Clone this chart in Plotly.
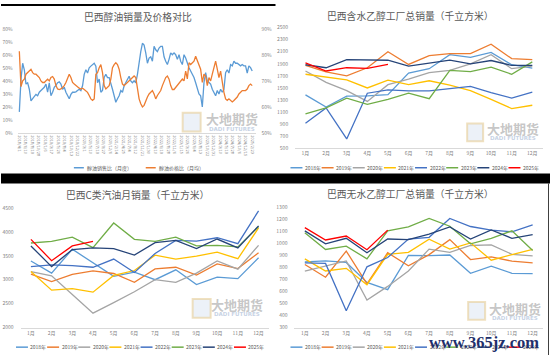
import plotly.graph_objects as go
import pandas as pd

W, H = 550, 358
def fx(px): return px / W
def fy(py): return 1 - py / H

# ---------------- Chart 1 data ----------------
ratio_tick_labels = ["2018/4/1","2018/6/10","2018/8/19","2018/10/28","2019/1/6","2019/3/17","2019/5/26",
    "2019/8/4","2019/10/13","2019/12/22","2020/3/1","2020/5/10","2020/7/19","2020/9/27","2020/12/6",
    "2021/2/14","2021/4/25","2021/7/4","2021/9/12","2021/11/21","2022/1/30","2022/4/10","2022/6/19",
    "2022/8/28","2022/11/6","2023/1/15","2023/3/26","2023/6/4","2023/8/13","2023/10/22","2023/12/31",
    "2024/3/10","2024/5/19","2024/7/28","2024/10/6","2024/12/15","2025/2/23"]
sales_ratio = [16.6, 41.8, 54, 49, 38, 39, 34, 25, 26.7, 28,
    30, 29, 31.7, 33, 34, 35.5, 38, 31.7, 39, 29,
    31.7, 35.5, 37, 39, 39.7, 38, 34, 35.5, 31.7, 29,
    26.7, 30, 31.7, 31.7, 32, 33, 34, 33, 36.7, 45.5,
    49, 46.5, 50.5, 51.8, 53, 54, 51.8, 39, 41.8, 31.7,
    33, 43, 45.5, 43, 43, 39, 34, 29, 24, 26.7,
    29, 33, 31.7, 36.7, 39, 41.8, 44, 40.5, 39, 40.5,
    39, 45.5, 55.6, 63, 69.4, 68, 62, 54, 58, 59,
    55.6, 67, 64.4, 63, 65.7, 67, 67, 59, 55.6, 53,
    57, 62, 60.6, 62, 60.6, 57, 60.6, 55.6, 53, 60.6,
    58, 54, 50.6, 48, 45.5, 43, 39, 34, 30.4, 29,
    20.4, 39, 46.8, 40.5, 39, 38, 34, 31.7, 29, 33,
    30.4, 34, 31.7, 34, 46.8, 49, 46.5, 53, 52, 55.6,
    54, 54, 53, 52, 53, 52, 52, 46.5, 52, 50.6,
    48]
price_ratio = [81.6, 68, 70.2, 70.9, 72.8, 73.4, 74, 74.7, 73.4, 72.8,
    72.8, 72.1, 71.5, 70.2, 69.6, 69.6, 70.2, 70.9, 70.2, 71.5,
    71.9, 70.9, 68.4, 67.1, 66.9, 67.1, 67.7, 68.4, 69.6, 71.5,
    72.8, 71.5, 69.6, 69, 68.4, 67.7, 67.4, 67.1, 67.4, 66.9,
    66.5, 65.8, 64.6, 63.3, 62.7, 63.3, 72.8, 73.4, 75.3, 76.5,
    73.4, 68.4, 67.1, 67.7, 68.4, 70.9, 75.3, 76.5, 77.2, 76.5,
    74.7, 71.5, 69, 68.4, 69, 69.6, 70.2, 70.9, 71.5, 72.1,
    71.5, 67.1, 63.3, 61.4, 60.2, 60.8, 62.7, 64, 65.2, 65.8,
    66.5, 65.2, 63.3, 64.6, 65.8, 66.5, 68.4, 70.2, 71.5, 72.1,
    70.9, 68.4, 66.9, 66.9, 67.7, 68.4, 69, 70.2, 70.9, 70.2,
    74, 71, 77.2, 76.5, 77.2, 77.8, 79.7, 77.8, 76.5, 74.7,
    69.6, 72.8, 72.1, 68.4, 71.5, 70.2, 72.8, 75.9, 77.8, 74.7,
    71.5, 74, 69, 65.8, 63.3, 62.7, 63.3, 62.7, 62.1, 62.7,
    63.3, 64, 65.2, 65.8, 66.5, 66.5, 66.5, 67.1, 68.4, 69,
    68.4]
ratio_series_names = ["醇油销售比（月度）", "醇油价格比（月均）"]

# ---------------- Monthly charts ----------------
months = ["1月","2月","3月","4月","5月","6月","7月","8月","9月","10月","11月","12月"]
years = ["2018年","2019年","2020年","2021年","2022年","2023年","2024年","2025年"]
year_colors = ["#5B9BD5","#ED7D31","#A5A5A5","#FFC000","#4472C4","#70AD47","#264478","#FF0000"]

hydrous_sales = [
    [1386, 1186, 1365, 1370, 1390, 1745, 1819, 2051, 2008, 2089, 1885, 1830],
    [1873, 1765, 1700, 1835, 2100, 1889, 2035, 2068, 2068, 2224, 1986, 1970],
    [1781, 1592, 1457, 1278, 1554, 1646, 1754, 1792, 1900, 2051, 1819, 1862],
    [1727, 1684, 1635, 1500, 1630, 1554, 1619, 1549, 1457, 1311, 1160, 1214],
    [916, 1170, 657, 1413, 1467, 1451, 1451, 1495, 1527, 1424, 1332, 1430],
    [1073, 1170, 1332, 1230, 1311, 1413, 1322, 1792, 1770, 1846, 1727, 1932],
    [1884, 1835, 1970, 1959, 1959, 1862, 1916, 1959, 1900, 1954, 1873, 1873],
    [1916, 1781, 1835, 1824, 1889],
]
gasoline_c_sales = [
    [3391, 3137, 3637, 3356, 3069, 3158, 3000, 3206, 2897, 3055, 3021, 3459],
    [3117, 2959, 3110, 3185, 3130, 2945, 3226, 3260, 3096, 3329, 3233, 3562],
    [3171, 3082, 2692, 2301, 2521, 2747, 3000, 2945, 3137, 3391, 3219, 3719],
    [3171, 2781, 2815, 2740, 3089, 3192, 3514, 3432, 3493, 3575, 3438, 4082],
    [3274, 3308, 3295, 3260, 3432, 3151, 3548, 3822, 3808, 3877, 3753, 4439],
    [3767, 3802, 3891, 3671, 4185, 3843, 3802, 3891, 3706, 3719, 3685, 4110],
    [3706, 3274, 3630, 3664, 3651, 3514, 3774, 3822, 3651, 3850, 3664, 4124],
    [3843, 3397, 3706, 3802],
]
anhydrous_sales = [
    [846, 854, 841, 675, 615, 900, 898, 903, 751, 811, 751, 748],
    [824, 718, 936, 664, 922, 814, 906, 1031, 865, 887, 852, 838],
    [770, 814, 854, 528, 642, 770, 952, 925, 982, 987, 909, 895],
    [871, 770, 792, 656, 909, 925, 1034, 952, 1004, 860, 906, 949],
    [838, 833, 439, 805, 882, 1036, 1050, 1207, 1140, 1110, 1096, 1153],
    [1088, 949, 977, 871, 1104, 1137, 1207, 1142, 996, 1042, 1104, 941],
    [1104, 996, 1042, 922, 1036, 1031, 1077, 1137, 1036, 1112, 1042, 1072],
    [1131, 1028, 1061, 947, 1110],
]

titles = ["巴西醇油销量及价格对比", "巴西含水乙醇工厂总销量（千立方米）",
          "巴西C类汽油月销量（千立方米）", "巴西无水乙醇工厂总销量（千立方米）"]

TXT = "#595959"
TICK = dict(family="Noto Sans CJK SC", size=5, color="#7F7F7F")
LW = 1.3

fig = go.Figure()

# chart 1 traces
ratio_x = pd.date_range("2018-04-01", periods=len(sales_ratio), freq="18D")
fig.add_trace(go.Scatter(x=ratio_x, y=[v / 100 for v in sales_ratio], mode="lines",
                         line=dict(color="#5B9BD5", width=LW), xaxis="x", yaxis="y", showlegend=False))
fig.add_trace(go.Scatter(x=ratio_x, y=[v / 100 for v in price_ratio], mode="lines",
                         line=dict(color="#ED7D31", width=LW), xaxis="x", yaxis="y2", showlegend=False))

# monthly charts
for data, xa, ya in [(hydrous_sales, "x2", "y3"), (gasoline_c_sales, "x3", "y4"), (anhydrous_sales, "x4", "y5")]:
    for vals, col in zip(data, year_colors):
        fig.add_trace(go.Scatter(x=months[:len(vals)], y=vals, mode="lines",
                                 line=dict(color=col, width=LW), xaxis=xa, yaxis=ya, showlegend=False))

axis_common = dict(showgrid=False, zeroline=False, ticks="", tickfont=TICK, fixedrange=True)
yax_common = dict(axis_common, ticklabelstandoff=6)
tickdates = pd.to_datetime(ratio_tick_labels, format="%Y/%m/%d")
fig.update_layout(
    width=W, height=H, margin=dict(l=0, r=0, t=0, b=0),
    paper_bgcolor="white", plot_bgcolor="rgba(0,0,0,0)", showlegend=False,
    xaxis=dict(domain=[fx(16.7), fx(255)], anchor="y",
               range=[ratio_x[0] - pd.Timedelta(days=18), ratio_x[-1] + pd.Timedelta(days=36)],
               tickvals=tickdates, ticktext=ratio_tick_labels, tickangle=90,
               showline=True, linecolor="#D9D9D9", linewidth=1,
               showgrid=False, zeroline=False, ticks="", fixedrange=True,
               tickfont=dict(family="Noto Sans CJK SC", size=4, color="#7F7F7F")),
    yaxis=dict(domain=[fy(132), fy(26)], range=[0, 0.8], dtick=0.1, tickformat=".0%",
               anchor="x", **dict(axis_common, ticklabelstandoff=4)),
    yaxis2=dict(range=[0.5, 0.9], dtick=0.1, tickformat=".0%", overlaying="y", side="right",
                anchor="x", **dict(axis_common, ticklabelstandoff=5)),
    xaxis2=dict(domain=[fx(294.7), fx(542.6)], anchor="y3", range=[-0.5, 11.5], type="category",
                showline=True, linecolor="#D9D9D9", linewidth=1, **axis_common),
    yaxis3=dict(domain=[fy(147.3), fy(24)], range=[500, 2500], tick0=500, dtick=200, anchor="x2", **yax_common),
    xaxis3=dict(domain=[fx(19.6), fx(268.4)], anchor="y4", range=[-0.5, 11.5], type="category",
                showline=True, linecolor="#D9D9D9", linewidth=1, **axis_common),
    yaxis4=dict(domain=[fy(330), fy(208)], range=[2000, 4500], dtick=500, anchor="x3", **yax_common),
    xaxis4=dict(domain=[fx(294), fx(543)], anchor="y5", range=[-0.5, 11.5], type="category",
                showline=True, linecolor="#D9D9D9", linewidth=1, **axis_common),
    yaxis5=dict(domain=[fy(330), fy(207.3)], range=[300, 1300], dtick=100, anchor="x4", **yax_common),
)

shapes = []
ann = []

# titles
for t, (cx, cy) in zip(titles, [(137, 13), (410, 12), (137, 195), (410, 194)]):
    ann.append(dict(text=t, x=fx(cx), y=fy(cy), xref="paper", yref="paper", showarrow=False,
                    font=dict(family="Noto Sans CJK SC", size=9.8, color=TXT), xanchor="center", yanchor="middle"))

# chart 1 legend
for name, col, lx in zip(ratio_series_names, ["#5B9BD5", "#ED7D31"], [73, 145]):
    shapes.append(dict(type="line", xref="paper", yref="paper", x0=fx(lx), x1=fx(lx + 10),
                       y0=fy(167), y1=fy(167), line=dict(color=col, width=1.5)))
    ann.append(dict(text=name, x=fx(lx + 11), y=fy(167), xref="paper", yref="paper", showarrow=False,
                    font=dict(family="Noto Sans CJK SC", size=5, color=TXT), xanchor="left", yanchor="middle"))

# year legends
for x0, ly in [(290, 167), (15, 350), (290, 350)]:
    for i, (yr, col) in enumerate(zip(years, year_colors)):
        lx = x0 + i * 31.2
        shapes.append(dict(type="line", xref="paper", yref="paper", x0=fx(lx), x1=fx(lx + 12),
                           y0=fy(ly), y1=fy(ly), line=dict(color=col, width=1.5)))
        ann.append(dict(text=yr, x=fx(lx + 12.5), y=fy(ly), xref="paper", yref="paper", showarrow=False,
                        font=dict(family="Noto Sans CJK SC", size=5, color=TXT), xanchor="left", yanchor="middle"))

# watermarks
for (lx0, ly0, lx1, ly1, tx, ty1, ty2) in [(182, 111, 200, 130, 231, 117, 127),
                                           (467, 122, 483, 140, 513, 127, 137),
                                           (192, 301, 210, 320, 236, 306, 316),
                                           (468, 304, 485, 322, 515, 311, 320)]:
    shapes.append(dict(type="rect", xref="paper", yref="paper", x0=fx(lx0), x1=fx(lx1), y0=fy(ly1), y1=fy(ly0),
                       line=dict(color="rgba(230,205,150,0.6)", width=2), fillcolor="rgba(200,215,235,0.35)"))
    ann.append(dict(text="<b>大地期货</b>", x=fx(tx), y=fy(ty1), xref="paper", yref="paper", showarrow=False,
                    font=dict(family="Noto Sans CJK SC", size=13, color="rgba(150,150,150,0.55)"),
                    xanchor="center", yanchor="middle"))
    ann.append(dict(text="<b>DADI FUTURES</b>", x=fx(tx), y=fy(ty2), xref="paper", yref="paper", showarrow=False,
                    font=dict(family="DejaVu Sans", size=5.5, color="rgba(160,180,210,0.6)"),
                    xanchor="center", yanchor="middle"))

# separators
shapes.append(dict(type="rect", xref="paper", yref="paper", x0=0, x1=1, y0=fy(183), y1=fy(173),
                   fillcolor="black", line=dict(width=0)))
shapes.append(dict(type="rect", xref="paper", yref="paper", x0=0, x1=fx(275), y0=fy(2), y1=1,
                   fillcolor="black", line=dict(width=0)))
shapes.append(dict(type="line", xref="paper", yref="paper", x0=fx(548.5), x1=fx(548.5), y0=0, y1=fy(183),
                   line=dict(color="#404040", width=1)))

# site watermark
ann.append(dict(text="<b>www.365jz.com</b>", x=fx(484), y=fy(345), xref="paper", yref="paper", showarrow=False,
                font=dict(family="Liberation Serif", size=16.5, color="#1F2F6B"), xanchor="center", yanchor="middle"))

fig.update_layout(shapes=shapes, annotations=ann)
fig.write_html("out.html", config={"displayModeBar": False})

# remove the browser's default body margin so the figure sits at the page origin
with open("out.html", encoding="utf-8") as f:
    html = f.read()
html = html.replace("<body>", '<body style="margin:0;padding:0;overflow:hidden">', 1)
with open("out.html", "w", encoding="utf-8") as f:
    f.write(html)
